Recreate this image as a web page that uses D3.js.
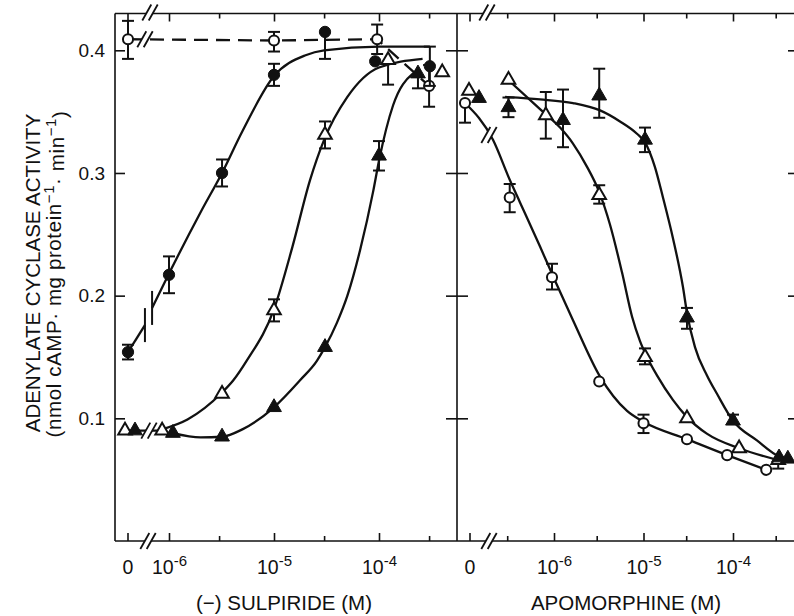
<!DOCTYPE html>
<html>
<head>
<meta charset="utf-8">
<script src="https://cdn.jsdelivr.net/npm/d3@7"></script>
<style>
  body { margin: 0; background: #fff; }
  svg { display: block; font-family: "Liberation Sans", Arial, Helvetica, sans-serif; }
</style>
</head>
<body>
<svg id="chart" width="794" height="616"></svg>
<script>
// ---------- axis ticks ----------
const yTicks = [0.1, 0.2, 0.3, 0.4];
const yTickLabels = ["0.1", "0.2", "0.3", "0.4"];
const decadeTicks = [1e-6, 1e-5, 1e-4];
const decadeExponents = ["-6", "-5", "-4"];
const sulMinorTicks = [3e-6, 3e-5, 3e-4];
const apoMinorTicks = [3e-7, 3e-6, 3e-5, 3e-4];

// ---------- (-) sulpiride panel: measured points (M, nmol cAMP/mg/min) ----------
// open circles: no apomorphine
const sulOcConc = [0, 1e-5, 9.6e-5, 3e-4];
const sulOcVal  = [0.409, 0.408, 0.409, 0.371];
const sulOcHi   = [0.015, 0.007, 0.012, 0.017];
const sulOcLo   = [0.016, 0.009, 0.012, 0.017];
// filled circles
const sulFcConc = [0, 1e-6, 3.2e-6, 1e-5, 3.06e-5, 9.2e-5, 3.05e-4];
const sulFcVal  = [0.154, 0.217, 0.300, 0.380, 0.415, 0.391, 0.387];
const sulFcHi   = [0.006, 0.015, 0.011, 0.009, 0, 0, 0.016];
const sulFcLo   = [0.006, 0.015, 0.011, 0.009, 0.022, 0, 0.016];
// open triangles
const sulOtConc = [0, 8.6e-7, 3.2e-6, 1e-5, 3.06e-5, 1.22e-4, 4e-4];
const sulOtVal  = [0.090, 0.090, 0.120, 0.188, 0.331, 0.392, 0.382];
const sulOtHi   = [0, 0, 0, 0.009, 0.011, 0, 0];
const sulOtLo   = [0, 0, 0, 0.009, 0.011, 0.020, 0];
// filled triangles
const sulFtConc = [0, 1.09e-6, 3.2e-6, 1e-5, 3.06e-5, 1e-4, 2.35e-4];
const sulFtVal  = [0.090, 0.088, 0.085, 0.109, 0.158, 0.314, 0.381];
const sulFtHi   = [0, 0, 0, 0, 0, 0.012, 0];
const sulFtLo   = [0, 0, 0, 0, 0, 0.012, 0.012];

// fitted curves, sulpiride panel
const sulFcBridgeConc = [0, 5.9e-7];
const sulFcBridgeVal  = [0.154, 0.176];
const sulFcFitConc = [6.9e-7, 1e-6, 2e-6, 3.2e-6, 5e-6, 1e-5, 2e-5, 3e-5, 1e-4, 3.05e-4];
const sulFcFitVal  = [0.190, 0.218, 0.268, 0.300, 0.334, 0.379, 0.396, 0.400, 0.403, 0.403];
const sulOtFitConc = [8.6e-7, 1.5e-6, 3.2e-6, 4.1e-6, 5.5e-6, 1e-5, 1.5e-5, 2.2e-5, 3e-5, 5e-5, 1e-4, 2.6e-4];
const sulOtFitVal  = [0.091, 0.099, 0.121, 0.131, 0.147, 0.189, 0.240, 0.294, 0.327, 0.362, 0.386, 0.393];
const sulFtFitConc = [1.09e-6, 2e-6, 3.2e-6, 5e-6, 1e-5, 1.77e-5, 2.57e-5, 3.06e-5, 3.98e-5, 5e-5, 6.6e-5, 8.8e-5, 1e-4, 1.36e-4, 2.1e-4, 2.4e-4];
const sulFtFitVal  = [0.088, 0.0845, 0.085, 0.091, 0.109, 0.131, 0.147, 0.158, 0.178, 0.200, 0.237, 0.285, 0.310, 0.355, 0.381, 0.384];

// ---------- apomorphine panel ----------
const apoOcConc = [0, 3.2e-7, 9.5e-7, 3.2e-6, 1e-5, 3.06e-5, 8.6e-5, 2.35e-4];
const apoOcVal  = [0.357, 0.280, 0.215, 0.130, 0.096, 0.083, 0.070, 0.058];
const apoOcHi   = [0, 0.011, 0.011, 0, 0.007, 0, 0, 0];
const apoOcLo   = [0.016, 0.012, 0.010, 0, 0.008, 0, 0, 0];
const apoOtConc = [0, 3.1e-7, 8.1e-7, 3.2e-6, 1.04e-5, 3.06e-5, 1.17e-4, 3.2e-4];
const apoOtVal  = [0.367, 0.376, 0.347, 0.282, 0.150, 0.100, 0.0756, 0.066];
const apoOtHi   = [0, 0, 0.019, 0.008, 0.007, 0, 0, 0];
const apoOtLo   = [0, 0, 0.019, 0.007, 0.006, 0, 0, 0.007];
const apoFtConc = [0, 3.1e-7, 1.26e-6, 3.2e-6, 1.04e-5, 3.06e-5, 1e-4, 3.27e-4, 4.1e-4];
const apoFtVal  = [0.361, 0.3535, 0.343, 0.363, 0.327, 0.182, 0.098, 0.068, 0.067];
const apoFtHi   = [0, 0.008, 0.025, 0.022, 0.010, 0.008, 0.005, 0, 0];
const apoFtLo   = [0, 0.008, 0.022, 0.018, 0.010, 0.009, 0, 0, 0];

// fitted curves, apomorphine panel
const apoOcFitConc = [0, 2.08e-7, 3.22e-7, 4.17e-7, 6.98e-7, 1.03e-6, 1.63e-6, 3.27e-6, 6.55e-6, 1.01e-5, 3.06e-5, 8.6e-5, 2.35e-4];
const apoOcFitVal  = [0.357, 0.327, 0.294, 0.276, 0.240, 0.212, 0.180, 0.134, 0.106, 0.097, 0.083, 0.070, 0.058];
const apoOtFitConc = [3.06e-7, 6.98e-7, 1.17e-6, 1.63e-6, 2.34e-6, 3.18e-6, 4.22e-6, 5.75e-6, 7.44e-6, 9.14e-6, 1.094e-5, 1.415e-5, 2.13e-5, 3.06e-5, 5.1e-5, 1.17e-4, 3.18e-4];
const apoOtFitVal  = [0.376, 0.352, 0.337, 0.324, 0.305, 0.285, 0.258, 0.219, 0.183, 0.163, 0.150, 0.135, 0.115, 0.101, 0.0875, 0.0756, 0.066];
const apoFtFitConc = [2.84e-7, 6.98e-7, 1.63e-6, 3.27e-6, 5.46e-6, 8.45e-6, 1.04e-5, 1.34e-5, 1.65e-5, 2.13e-5, 2.76e-5, 3.06e-5, 3.76e-5, 5.12e-5, 6.62e-5, 1e-4, 1.85e-4, 3.27e-4, 4.33e-4];
const apoFtFitVal  = [0.362, 0.360, 0.357, 0.351, 0.342, 0.332, 0.325, 0.305, 0.280, 0.247, 0.207, 0.186, 0.158, 0.135, 0.120, 0.098, 0.082, 0.069, 0.067];

// ---------- layout ----------
const svg = d3.select("#chart");
svg.append("rect").attr("width", 794).attr("height", 616).attr("fill", "#fff");

const y = d3.scaleLinear().domain([0, 0.43]).range([541, 13.5]);
const frameTop = y(0.43), frameBottom = y(0);
const frameLeft = 115, frameMid = 457, frameRight = 797;
const INK = "#111";
const FONT = "'Liberation Sans', Arial, sans-serif";

const panels = {
  sul: { x: d3.scaleLog().domain([1e-6, 1e-4]).range([169, 379]), zeroX: 128, breakX: 148 },
  apo: { x: d3.scaleLog().domain([1e-6, 1e-4]).range([554, 733]), zeroX: 470, breakX: 489 }
};
const px = (p, c, dodge = 0) => c === 0 ? p.zeroX + dodge : p.x(c);
const zip = (a, b) => a.map((c, i) => [c, b[i]]);

// ---------- frame ----------
const frame = svg.append("g").attr("stroke", INK).attr("stroke-width", 1.6).attr("fill", "none");
frame.append("line").attr("x1", frameLeft).attr("x2", frameRight).attr("y1", frameTop).attr("y2", frameTop);
frame.append("line").attr("x1", frameLeft).attr("x2", frameRight).attr("y1", frameBottom).attr("y2", frameBottom);
frame.append("line").attr("x1", frameLeft).attr("x2", frameLeft).attr("y1", frameTop).attr("y2", frameBottom);
frame.append("line").attr("x1", frameMid).attr("x2", frameMid).attr("y1", frameTop).attr("y2", frameBottom);

// ---------- y axis (left) ----------
const yAxis = svg.append("g").attr("transform", `translate(${frameLeft},0)`)
  .call(d3.axisLeft(y).tickValues(yTicks).tickSizeInner(-10).tickSizeOuter(0).tickPadding(10)
    .tickFormat((d, i) => yTickLabels[i]));
yAxis.select(".domain").remove();
yAxis.selectAll(".tick line").attr("stroke", INK).attr("stroke-width", 1.6);
yAxis.selectAll(".tick text").attr("font-size", 19).attr("fill", INK).attr("font-family", FONT);

// cross ticks on the divider and inward ticks on the right edge
const midAxis = svg.append("g").attr("transform", `translate(${frameMid + 11},0)`)
  .call(d3.axisLeft(y).tickValues(yTicks).tickSizeInner(22).tickSizeOuter(0).tickFormat(""));
midAxis.select(".domain").remove();
midAxis.selectAll(".tick line").attr("stroke", INK).attr("stroke-width", 1.6);
const rightAxis = svg.append("g").attr("transform", `translate(${frameRight},0)`)
  .call(d3.axisRight(y).tickValues(yTicks).tickSizeInner(-9).tickSizeOuter(0).tickFormat(""));
rightAxis.select(".domain").remove();
rightAxis.selectAll(".tick line").attr("stroke", INK).attr("stroke-width", 1.6);

// ---------- x axes ----------
function xAxes(p, minor) {
  const bottom = svg.append("g").attr("transform", `translate(0,${frameBottom})`)
    .call(d3.axisBottom(p.x).tickValues(decadeTicks).tickSizeInner(-8).tickSizeOuter(0)
      .tickPadding(19).tickFormat(() => ""));
  bottom.select(".domain").remove();
  bottom.selectAll(".tick text").each(function(d, i) {
    const t = d3.select(this).attr("font-size", 19.5).attr("fill", INK).attr("font-family", FONT);
    t.append("tspan").text("10");
    t.append("tspan").attr("font-size", 15).attr("dy", "-0.5em").text(decadeExponents[i]);
  });
  const bottomMinor = svg.append("g").attr("transform", `translate(0,${frameBottom})`)
    .call(d3.axisBottom(p.x).tickValues(minor).tickSizeInner(-5).tickSizeOuter(0).tickFormat(""));
  bottomMinor.select(".domain").remove();
  const top = svg.append("g").attr("transform", `translate(0,${frameTop})`)
    .call(d3.axisTop(p.x).tickValues(decadeTicks).tickSizeInner(-8).tickSizeOuter(0).tickFormat(""));
  top.select(".domain").remove();
  const topMinor = svg.append("g").attr("transform", `translate(0,${frameTop})`)
    .call(d3.axisTop(p.x).tickValues(minor).tickSizeInner(-5).tickSizeOuter(0).tickFormat(""));
  topMinor.select(".domain").remove();
  [bottom, bottomMinor, top, topMinor].forEach(g =>
    g.selectAll(".tick line").attr("stroke", INK).attr("stroke-width", 1.6));

  // zero position tick and label
  const z = svg.append("g").attr("stroke", INK).attr("stroke-width", 1.6);
  z.append("line").attr("x1", p.zeroX).attr("x2", p.zeroX).attr("y1", frameBottom).attr("y2", frameBottom - 8);
  z.append("line").attr("x1", p.zeroX).attr("x2", p.zeroX).attr("y1", frameTop).attr("y2", frameTop + 8);
  svg.append("text").attr("x", p.zeroX).attr("y", frameBottom + 32.5).attr("text-anchor", "middle")
    .attr("font-size", 19.5).attr("fill", INK).text("0");
}
xAxes(panels.sul, sulMinorTicks);
xAxes(panels.apo, apoMinorTicks);

// ---------- curves ----------
const plot = svg.append("g");
function curve(p, conc, val, opts = {}) {
  const line = d3.line().x(d => px(p, d[0], opts.dodge || 0)).y(d => y(d[1]))
    .curve(opts.linear ? d3.curveLinear : d3.curveMonotoneX);
  return plot.append("path").datum(zip(conc, val)).attr("d", line)
    .attr("fill", "none").attr("stroke", INK).attr("stroke-width", 2.3)
    .attr("stroke-dasharray", opts.dash || null);
}
const S = panels.sul, A = panels.apo;
curve(S, sulOcConc, sulOcVal, { linear: true, dash: "14,8" });
curve(S, sulFcBridgeConc, sulFcBridgeVal, { linear: true });
curve(S, sulFcFitConc, sulFcFitVal);
curve(S, sulOtConc.slice(0, 2), sulOtVal.slice(0, 2), { linear: true, dodge: -3 });
curve(S, sulOtFitConc, sulOtFitVal);
curve(S, sulFtFitConc, sulFtFitVal);
curve(A, apoOcFitConc, apoOcFitVal, { dodge: -5 });
curve(A, apoOtFitConc, apoOtFitVal);
curve(A, apoFtFitConc, apoFtFitVal);

// vertical bars where the filled-circle line is interrupted
[[sulFcBridgeConc[1], sulFcBridgeVal[1]], [sulFcFitConc[0], sulFcFitVal[0]]].forEach(([c, v]) => {
  plot.append("line").attr("x1", S.x(c)).attr("x2", S.x(c))
    .attr("y1", y(v) - 17).attr("y2", y(v) + 17)
    .attr("stroke", INK).attr("stroke-width", 2);
});

// "//" break symbols on axes and lines
function breakMark(cx, cy) {
  const g = svg.append("g");
  const dx = 4.5, dy = 8, gap = 3.2;
  g.append("path")
    .attr("d", `M${cx - gap - dx},${cy + dy} L${cx - gap + dx},${cy - dy} L${cx + gap + dx},${cy - dy} L${cx + gap - dx},${cy + dy} Z`)
    .attr("fill", "#fff");
  [-gap, gap].forEach(o => g.append("line")
    .attr("x1", cx + o - dx).attr("y1", cy + dy).attr("x2", cx + o + dx).attr("y2", cy - dy)
    .attr("stroke", INK).attr("stroke-width", 1.8));
}
breakMark(S.breakX, frameBottom);
breakMark(S.breakX + 2, frameTop - 1);
breakMark(A.breakX, frameBottom);
breakMark(A.breakX - 2, frameTop - 1);
breakMark(S.breakX - 3, y(sulOcVal[0]));
breakMark(S.breakX + 1, y(sulOtVal[1]));
breakMark(A.breakX, y(0.331));

// ---------- error bars and markers ----------
const marks = svg.append("g");
function series(p, conc, val, hi, lo, shape, filled, dodge = 0) {
  conc.forEach((c, i) => {
    const cx = px(p, c, dodge), v = val[i];
    if (hi[i] > 0 || lo[i] > 0) {
      const top = y(v + hi[i]), bot = y(v - lo[i]);
      marks.append("line").attr("x1", cx).attr("x2", cx).attr("y1", top).attr("y2", bot)
        .attr("stroke", INK).attr("stroke-width", 2);
      if (hi[i] > 0) marks.append("line").attr("x1", cx - 6).attr("x2", cx + 6)
        .attr("y1", top).attr("y2", top).attr("stroke", INK).attr("stroke-width", 2);
      if (lo[i] > 0) marks.append("line").attr("x1", cx - 6).attr("x2", cx + 6)
        .attr("y1", bot).attr("y2", bot).attr("stroke", INK).attr("stroke-width", 2);
    }
  });
  conc.forEach((c, i) => {
    const cx = px(p, c, dodge), cy = y(val[i]);
    const sym = shape === "circle"
      ? d3.symbol(d3.symbolCircle, filled ? 100 : 80)
      : d3.symbol(d3.symbolTriangle, filled ? 95 : 80);
    marks.append("path").attr("d", sym()).attr("transform", `translate(${cx},${cy})`)
      .attr("fill", filled ? INK : "#fff").attr("stroke", INK).attr("stroke-width", filled ? 1 : 2);
  });
}
series(S, sulOcConc, sulOcVal, sulOcHi, sulOcLo, "circle", false);
series(S, sulFcConc, sulFcVal, sulFcHi, sulFcLo, "circle", true);
series(S, sulOtConc, sulOtVal, sulOtHi, sulOtLo, "triangle", false, -3);
series(S, sulFtConc, sulFtVal, sulFtHi, sulFtLo, "triangle", true, 7);
series(A, apoOcConc, apoOcVal, apoOcHi, apoOcLo, "circle", false, -5);
series(A, apoOtConc, apoOtVal, apoOtHi, apoOtLo, "triangle", false, -1);
series(A, apoFtConc, apoFtVal, apoFtHi, apoFtLo, "triangle", true, 9);

// ---------- titles ----------
svg.append("text").attr("x", 284).attr("y", 610).attr("text-anchor", "middle")
  .attr("font-size", 20.5).attr("fill", INK).text("(\u2212) SULPIRIDE (M)");
svg.append("text").attr("x", 626).attr("y", 610).attr("text-anchor", "middle")
  .attr("font-size", 20.5).attr("fill", INK).text("APOMORPHINE (M)");

svg.append("text").attr("transform", "translate(40,273) rotate(-90)").attr("text-anchor", "middle")
  .attr("font-size", 20.5).attr("fill", INK).text("ADENYLATE CYCLASE ACTIVITY");
const unit = svg.append("text").attr("transform", "translate(61,274) rotate(-90)").attr("text-anchor", "middle")
  .attr("font-size", 20.5).attr("letter-spacing", 0.6).attr("fill", INK);
unit.append("tspan").text("(nmol cAMP\u00b7 mg protein");
unit.append("tspan").attr("font-size", 15).attr("dy", "-0.5em").text("\u22121");
unit.append("tspan").attr("dy", "0.5em").text("\u00b7 min");
unit.append("tspan").attr("font-size", 15).attr("dy", "-0.5em").text("\u22121");
unit.append("tspan").attr("dy", "0.5em").text(")");
</script>
</body>
</html>
